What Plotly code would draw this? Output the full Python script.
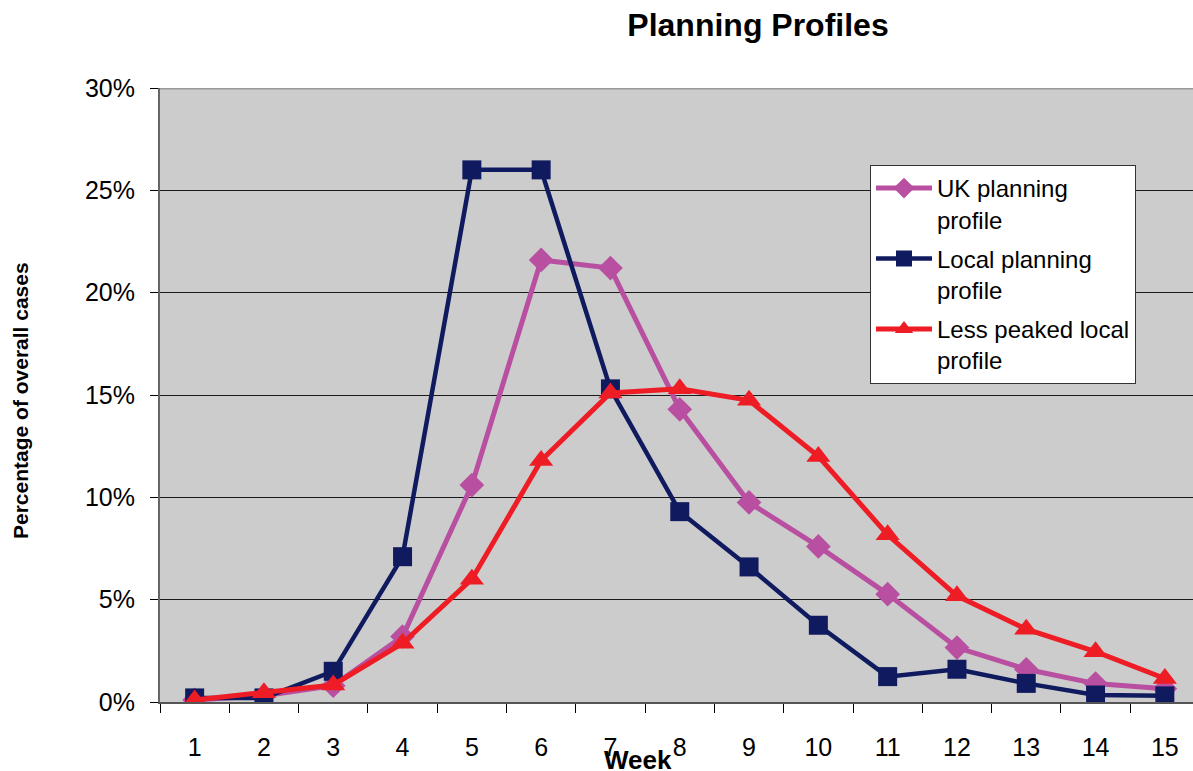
import plotly.graph_objects as go

# Weekly share of overall cases (%) for each planning profile
weeks = list(range(1, 16))
week_labels = [str(w) for w in weeks]

uk_profile = [0.1, 0.3, 0.8, 3.2, 10.6, 21.6, 21.2, 14.3, 9.75, 7.6, 5.27, 2.66, 1.6, 0.9, 0.65]
local_profile = [0.2, 0.2, 1.5, 7.1, 26.0, 26.0, 15.3, 9.3, 6.6, 3.75, 1.24, 1.6, 0.91, 0.34, 0.3]
less_peaked_profile = [0.1, 0.45, 0.83, 2.87, 6.0, 11.8, 15.1, 15.3, 14.74, 12.0, 8.17, 5.19, 3.56, 2.46, 1.15]

y_ticks = [0, 5, 10, 15, 20, 25, 30]
y_tick_labels = [f"{v}%" for v in y_ticks]

FONT = "Liberation Sans, Arial, sans-serif"

fig = go.Figure()

fig.add_trace(go.Scatter(
    x=weeks, y=uk_profile, mode="lines+markers",
    name="UK planning<br>profile", legendgroup="uk",
    line=dict(color="#B84FA0", width=5),
    marker=dict(symbol="diamond", size=19, color="#B84FA0"),
))
fig.add_trace(go.Scatter(
    x=weeks, y=local_profile, mode="lines+markers",
    name="Local planning<br>profile", legendgroup="local",
    line=dict(color="#0F1A5F", width=4.5),
    marker=dict(symbol="square", size=19, color="#0F1A5F"),
))
fig.add_trace(go.Scatter(
    x=weeks, y=less_peaked_profile, mode="lines+markers",
    name="Less peaked local<br>profile", legendgroup="less",
    line=dict(color="#EE1D25", width=5),
    marker=dict(symbol="triangle-up", size=21, color="#EE1D25"),
))

# plot area spans x 160..1193 px, one category every ~69.3 px
x_hi = 0.5 + (1193 - 160) / 69.3

fig.update_layout(
    width=1193, height=771,
    margin=dict(l=160, r=0, t=88, b=69),
    paper_bgcolor="white",
    plot_bgcolor="#CCCCCC",
    font=dict(family=FONT, color="black"),
    showlegend=True,
    legend=dict(
        x=(870 - 160) / 1033, y=(702 - 165) / 614,
        xanchor="left", yanchor="top",
        bgcolor="white", bordercolor="#333333", borderwidth=1,
        font=dict(family=FONT, size=24, color="black"),
        itemwidth=56, valign="top",
        tracegroupgap=5,
    ),
    title=dict(
        text="Planning Profiles",
        font=dict(family=FONT, size=32, weight="bold", color="black"),
        xref="container", x=758 / 1193, xanchor="center",
        yref="container", y=1 - 25 / 771, yanchor="middle",
    ),
    xaxis=dict(
        range=[0.5, x_hi],
        tickmode="array", tickvals=weeks, ticktext=week_labels,
        ticks="", ticklabelstandoff=22,
        tickfont=dict(family=FONT, size=25, color="black"),
        showgrid=False, zeroline=False,
        showline=True, linecolor="#555555", linewidth=2,
        minor=dict(
            tickmode="array", tickvals=[w - 0.5 for w in weeks],
            ticks="outside", ticklen=9, tickwidth=1, tickcolor="black",
            showgrid=False,
        ),
    ),
    yaxis=dict(
        range=[0, 30],
        tickmode="array", tickvals=y_ticks, ticktext=y_tick_labels,
        ticks="outside", ticklen=8, tickwidth=1, tickcolor="black",
        ticklabelstandoff=10,
        tickfont=dict(family=FONT, size=25, color="black"),
        showgrid=True, gridcolor="#1A1A1A", gridwidth=1,
        zeroline=False,
        showline=True, linecolor="#666666", linewidth=2,
    ),
)

# light top edge of the plot area
fig.add_shape(type="line", xref="paper", yref="y", x0=0, x1=1, y0=30, y1=30,
              line=dict(color="#999999", width=3), layer="above")

fig.add_annotation(
    text="Week", xref="paper", yref="paper",
    x=(638 - 160) / 1033, y=(702 - 760) / 614,
    xanchor="center", yanchor="middle", showarrow=False,
    font=dict(family=FONT, size=26, weight="bold", color="black"),
)
fig.add_annotation(
    text="Percentage of overall cases", xref="paper", yref="paper",
    x=(20 - 160) / 1033, y=(702 - 401) / 614,
    xanchor="center", yanchor="middle", textangle=-90, showarrow=False,
    font=dict(family=FONT, size=21, weight="bold", color="black"),
)

fig.write_html("out.html")
